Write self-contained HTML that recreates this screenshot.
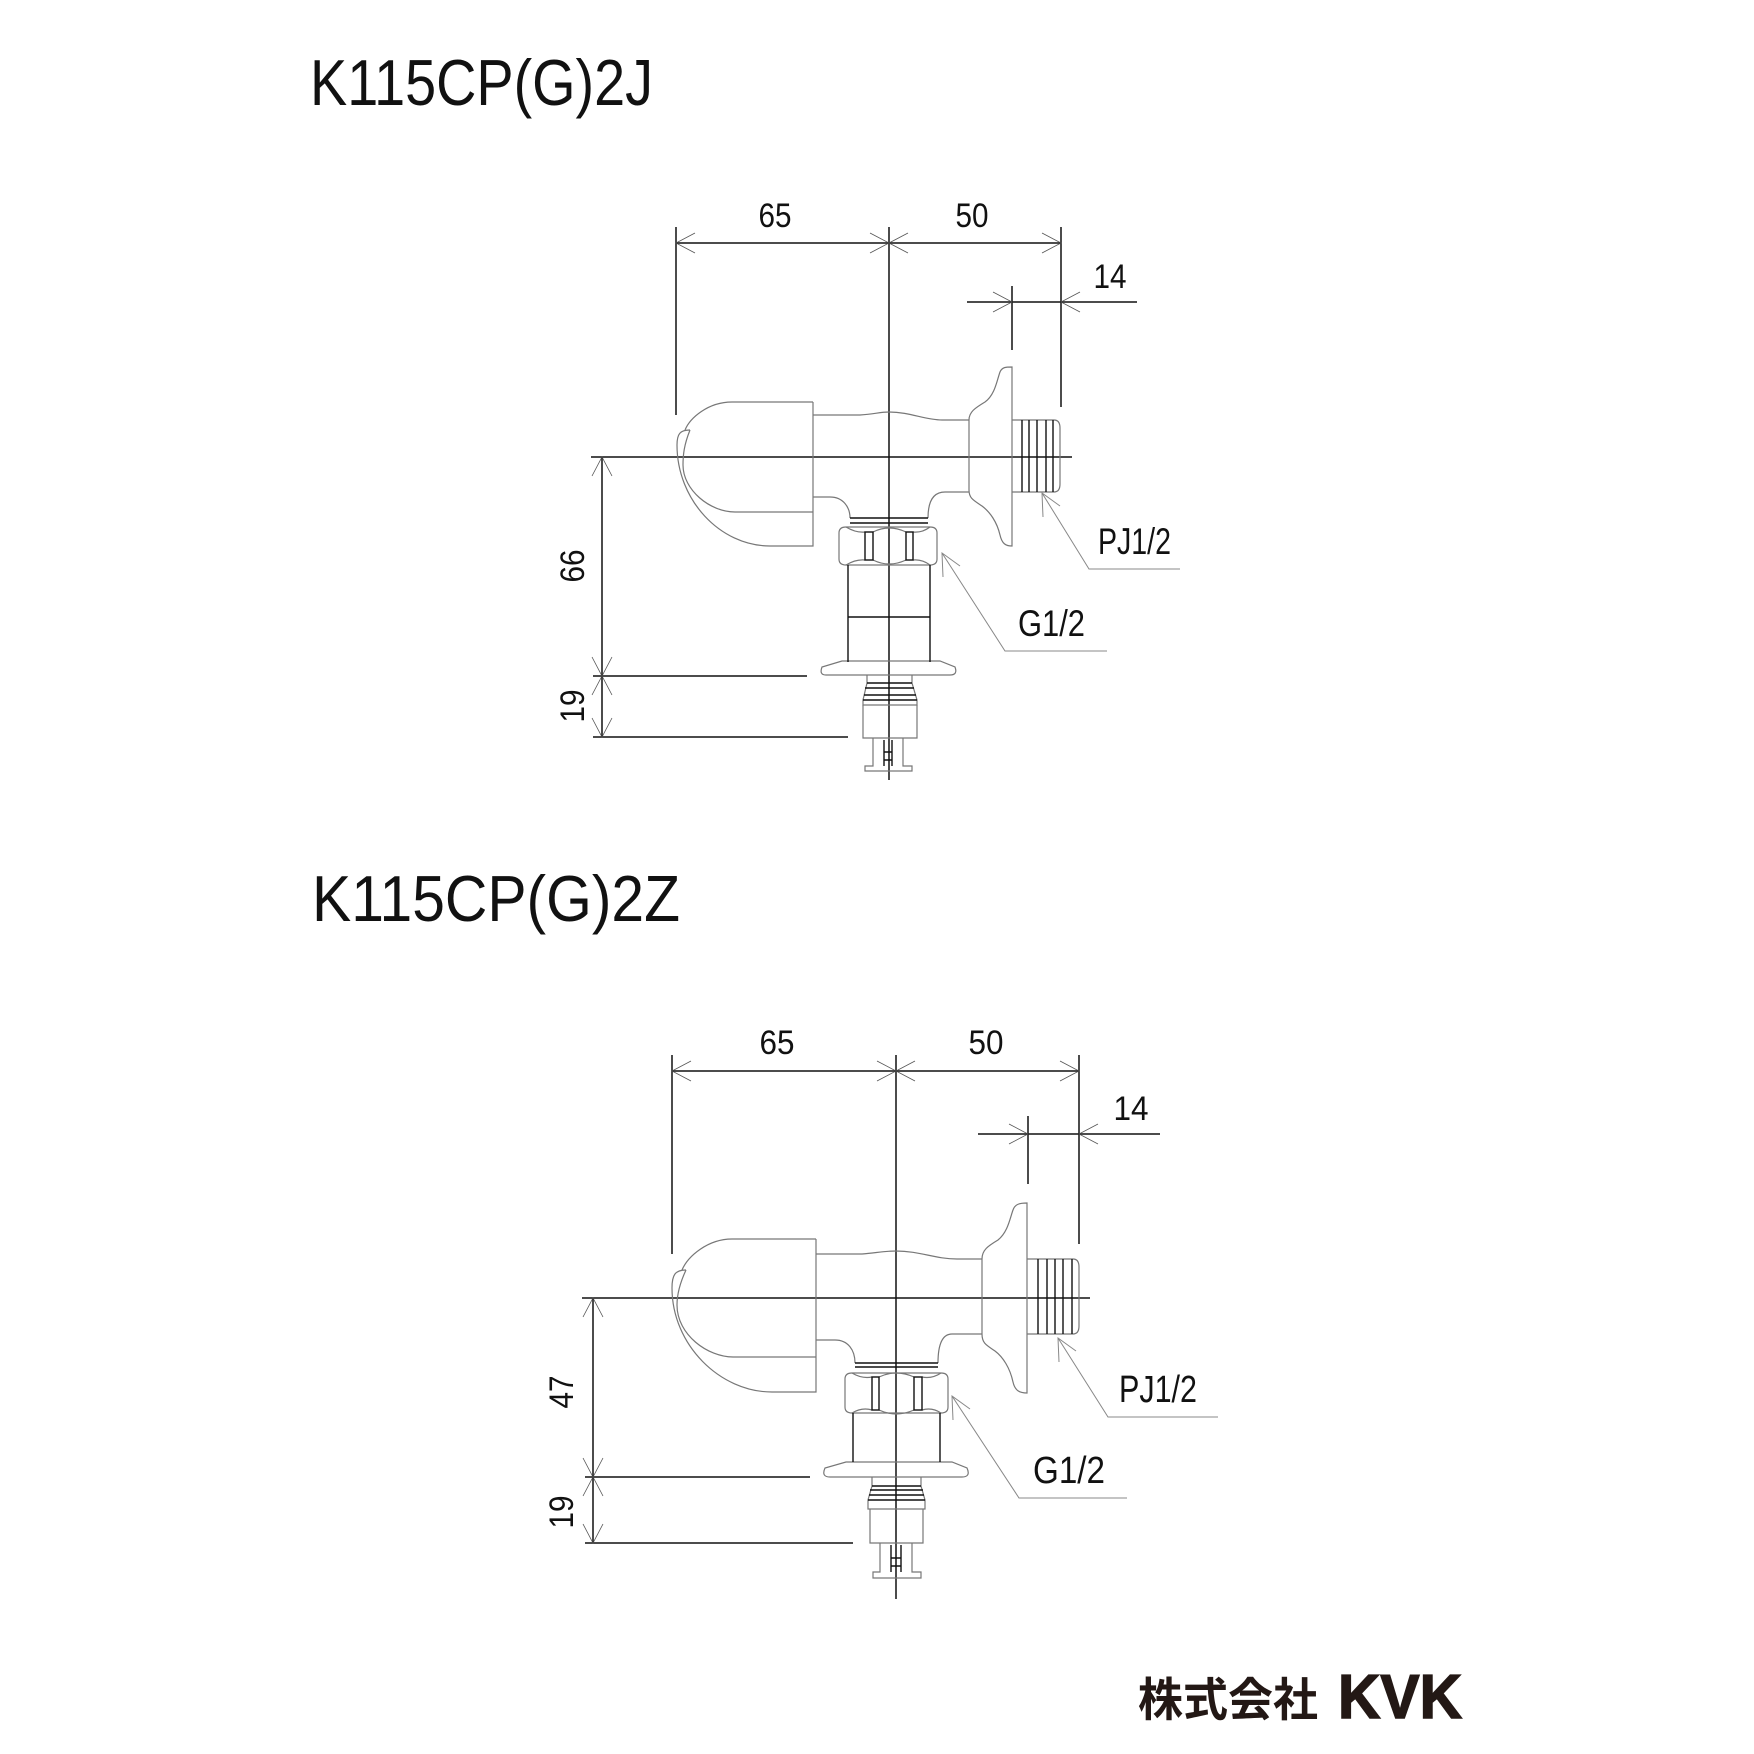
<!DOCTYPE html>
<html><head><meta charset="utf-8"><style>
html,body{margin:0;padding:0;background:#fff;}
svg{display:block;}
</style></head><body>
<svg width="1754" height="1754" viewBox="0 0 1754 1754" xmlns="http://www.w3.org/2000/svg">
<rect width="1754" height="1754" fill="#fff"/>
<g font-family="Liberation Sans, sans-serif" fill="#111">
<text x="310" y="105" font-size="65" textLength="343" lengthAdjust="spacingAndGlyphs">K115CP(G)2J</text>
<text x="312" y="921" font-size="65" textLength="368" lengthAdjust="spacingAndGlyphs">K115CP(G)2Z</text>
</g>

<!-- ===== Drawing 1 ===== -->
<g fill="none" stroke="#111" stroke-width="1.5">
<path d="M676,243 L1061,243 M676,227 L676,415 M889,227 L889,780 M1061,227 L1061,407"/>
<path d="M695,233 L676,243 L695,253 M870,233 L889,243 L870,253 M908,233 L889,243 L908,253 M1042,233 L1061,243 L1042,253" stroke-width="0.8" stroke="#555"/>
<path d="M967,302 L1137,302 M1012,286 L1012,350"/>
<path d="M993,292 L1012,302 L993,312 M1080,292 L1061,302 L1080,312" stroke-width="0.8" stroke="#555"/>
<path d="M602,457 L602,737 M591,457 L1072,457 M593,676 L807,676 M593,737 L848,737"/>
<path d="M592,476 L602,457 L612,476 M592,657 L602,676 L612,657 M592,695 L602,676 L612,695 M592,718 L602,737 L612,718" stroke-width="0.8" stroke="#555"/>
</g>
<g fill="none" stroke="#777" stroke-width="1.2">
<path d="M813,402 L732,402 C708,402 690,418 685,430"/>
<path d="M690,430 C680,430 677,434 677,445 C677,500 720,546 770,546 L813,546 L813,402"/>
<path d="M690,430 C684,445 683,455 683,465 C683,490 710,512 735,512 L813,512"/>
<path d="M813,415 L860,415 C875,414 880,412 889,412 C910,412 925,420 942,420 L969,420"/>
<path d="M813,497 L830,497 C843,497 850,507 850,518"/>
<path d="M969,492 L945,492 C933,492 928,502 928,518"/>
<path d="M969,420 C969,412 975,408 985,402 C995,395 997,380 1000,372 C1002,367 1006,367 1012,367 L1012,546 C1006,546 1002,544 1000,535 C997,522 990,512 982,506 C973,500 969,498 969,490 Z"/>
<path d="M1012,420 L1054,420 Q1060,420 1060,428 L1060,484 Q1060,492 1054,492 L1012,492"/>
<path d="M839,533 Q839,527 846,527 L930,527 Q937,527 937,533 L937,559 Q937,565 930,565 L846,565 Q839,565 839,559 Z"/>
<path d="M846,527 Q856,533 865,532 M873,532 Q889,524 906,532 M913,532 Q922,533 930,527 M846,565 Q856,559 865,560 M873,560 Q889,568 906,560 M913,560 Q922,559 930,565"/>
<path d="M842,661 L940,661 L955,667 Q958,675 950,675 L826,675 Q819,675 822,667 Z"/>
<path d="M867,675 L867,683 L863,700 L863,705 L917,705 L917,700 L912,683 L912,675"/>
<path d="M863,705 L863,738 L917,738 L917,705"/>
<path d="M873,738 L873,766 L865,766 L865,771 L912,771 L912,766 L903,766 L903,738"/>
<path d="M1042,493 L1089,569 L1180,569 M1043,517 L1042,493 L1060,506 M942,553 L1005,651 L1107,651 M943,577 L942,553 L960,566" stroke-width="1" stroke="#888"/>
</g>
<g fill="none" stroke="#111" stroke-width="1.4">
<path d="M1022,420 L1022,492 M1029,420 L1029,492 M1037,420 L1037,492 M1046,420 L1046,492 M1053,420 L1053,492"/>
<path d="M850,518 L928,518 M850,523 L928,523"/>
<rect x="865" y="532" width="8" height="28"/><rect x="906" y="532" width="7" height="28"/>
<path d="M848,565 L848,662 M930,565 L930,662 M848,617 L930,617"/>
<path d="M867,683 L912,683 M865,688 L914,688 M864,695 L916,695 M863,700 L917,700"/>
<path d="M884,740 L884,766 M892,740 L892,766 M884,752 L892,752 M884,760 L892,760"/>
</g>
<g font-family="Liberation Sans, sans-serif" fill="#111" font-size="34">
<text x="775" y="227" text-anchor="middle" textLength="33" lengthAdjust="spacingAndGlyphs">65</text>
<text x="972" y="227" text-anchor="middle" textLength="33" lengthAdjust="spacingAndGlyphs">50</text>
<text x="1110" y="288" text-anchor="middle" textLength="33" lengthAdjust="spacingAndGlyphs">14</text>
<text transform="translate(584,566) rotate(-90)" text-anchor="middle" textLength="33" lengthAdjust="spacingAndGlyphs">66</text>
<text transform="translate(584,706) rotate(-90)" text-anchor="middle" textLength="33" lengthAdjust="spacingAndGlyphs">19</text>
<text x="1098" y="554" font-size="37" textLength="73" lengthAdjust="spacingAndGlyphs">PJ1/2</text>
<text x="1018" y="636" font-size="37" textLength="67" lengthAdjust="spacingAndGlyphs">G1/2</text>
</g>

<!-- ===== Drawing 2 ===== -->
<g fill="none" stroke="#111" stroke-width="1.5">
<path d="M672,1071 L1079,1071 M672,1055 L672,1254 M896,1055 L896,1599 M1079,1055 L1079,1244"/>
<path d="M691,1061 L672,1071 L691,1081 M877,1061 L896,1071 L877,1081 M915,1061 L896,1071 L915,1081 M1060,1061 L1079,1071 L1060,1081" stroke-width="0.8" stroke="#555"/>
<path d="M978,1134 L1160,1134 M1028,1116 L1028,1184"/>
<path d="M1009,1124 L1028,1134 L1009,1144 M1098,1124 L1079,1134 L1098,1144" stroke-width="0.8" stroke="#555"/>
<path d="M593,1298 L593,1543 M582,1298 L1090,1298 M585,1477 L810,1477 M585,1543 L853,1543"/>
<path d="M583,1317 L593,1298 L603,1317 M583,1458 L593,1477 L603,1458 M583,1496 L593,1477 L603,1496 M583,1524 L593,1543 L603,1524" stroke-width="0.8" stroke="#555"/>
</g>
<g fill="none" stroke="#777" stroke-width="1.2">
<path d="M816,1239 L732,1239 C708,1239 688,1256 682,1270"/>
<path d="M686,1270 C675,1270 672,1275 672,1288 C672,1345 720,1392 772,1392 L816,1392 L816,1239"/>
<path d="M686,1270 C679,1285 677,1296 677,1305 C677,1335 708,1357 733,1357 L816,1357"/>
<path d="M816,1254 L862,1254 C876,1253 883,1251 896,1251 C920,1251 935,1259 957,1259 L982,1259"/>
<path d="M816,1340 L835,1340 C848,1340 855,1350 855,1363"/>
<path d="M982,1334 L952,1334 C942,1334 938,1345 938,1363"/>
<path d="M982,1259 C982,1250 988,1246 998,1240 C1008,1232 1010,1218 1013,1210 C1015,1204 1020,1203 1027,1203 L1027,1393 C1020,1393 1015,1391 1013,1382 C1010,1368 1003,1357 995,1351 C986,1345 982,1343 982,1334 Z"/>
<path d="M1027,1259 L1073,1259 Q1079,1259 1079,1267 L1079,1326 Q1079,1334 1073,1334 L1027,1334"/>
<path d="M845,1379 Q845,1373 852,1373 L941,1373 Q948,1373 948,1379 L948,1407 Q948,1413 941,1413 L852,1413 Q845,1413 845,1407 Z"/>
<path d="M852,1373 Q862,1379 872,1377 M879,1377 Q896,1369 914,1377 M922,1377 Q932,1379 941,1373 M852,1413 Q862,1407 872,1410 M879,1410 Q896,1418 914,1410 M922,1410 Q932,1407 941,1413"/>
<path d="M846,1462 L952,1462 L967,1468 Q971,1477 962,1477 L830,1477 Q821,1477 825,1468 Z"/>
<path d="M872,1477 L872,1486 L868,1500 L868,1509 L925,1509 L925,1500 L921,1486 L921,1477"/>
<path d="M870,1509 L870,1543 L923,1543 L923,1509"/>
<path d="M880,1543 L880,1572 L873,1572 L873,1578 L921,1578 L921,1572 L912,1572 L912,1543"/>
<path d="M1058,1338 L1108,1417 L1218,1417 M1059,1362 L1058,1338 L1076,1351 M952,1396 L1019,1498 L1127,1498 M953,1420 L952,1396 L970,1409" stroke-width="1" stroke="#888"/>
</g>
<g fill="none" stroke="#111" stroke-width="1.4">
<path d="M1038,1259 L1038,1334 M1047,1259 L1047,1334 M1055,1259 L1055,1334 M1063,1259 L1063,1334 M1072,1259 L1072,1334"/>
<path d="M855,1363 L938,1363 M855,1367 L938,1367"/>
<rect x="872" y="1377" width="7" height="33"/><rect x="914" y="1377" width="8" height="33"/>
<path d="M853,1413 L853,1462 M940,1413 L940,1462"/>
<path d="M872,1486 L921,1486 M870,1490 L923,1490 M869,1495 L924,1495 M868,1500 L925,1500"/>
<path d="M891,1545 L891,1572 M901,1545 L901,1572 M891,1558 L901,1558 M891,1566 L901,1566"/>
</g>
<g font-family="Liberation Sans, sans-serif" fill="#111" font-size="34">
<text x="777" y="1054" text-anchor="middle" textLength="35" lengthAdjust="spacingAndGlyphs">65</text>
<text x="986" y="1054" text-anchor="middle" textLength="35" lengthAdjust="spacingAndGlyphs">50</text>
<text x="1131" y="1120" text-anchor="middle" textLength="35" lengthAdjust="spacingAndGlyphs">14</text>
<text transform="translate(573,1392) rotate(-90)" text-anchor="middle" textLength="33" lengthAdjust="spacingAndGlyphs">47</text>
<text transform="translate(573,1512) rotate(-90)" text-anchor="middle" textLength="33" lengthAdjust="spacingAndGlyphs">19</text>
<text x="1119" y="1402" font-size="38" textLength="78" lengthAdjust="spacingAndGlyphs">PJ1/2</text>
<text x="1033" y="1483" font-size="38" textLength="72" lengthAdjust="spacingAndGlyphs">G1/2</text>
</g>

<!-- Logo -->
<text x="1138" y="1716" font-family="Liberation Sans, 'Noto Sans CJK JP', sans-serif" font-weight="bold" font-size="46" fill="#231815" textLength="180" lengthAdjust="spacingAndGlyphs">株式会社</text>
<text x="1338" y="1718" font-family="Liberation Sans, sans-serif" font-weight="bold" font-size="62" fill="#231815" textLength="124" lengthAdjust="spacingAndGlyphs" stroke="#231815" stroke-width="1.5">KVK</text>
</svg>
</body></html>
